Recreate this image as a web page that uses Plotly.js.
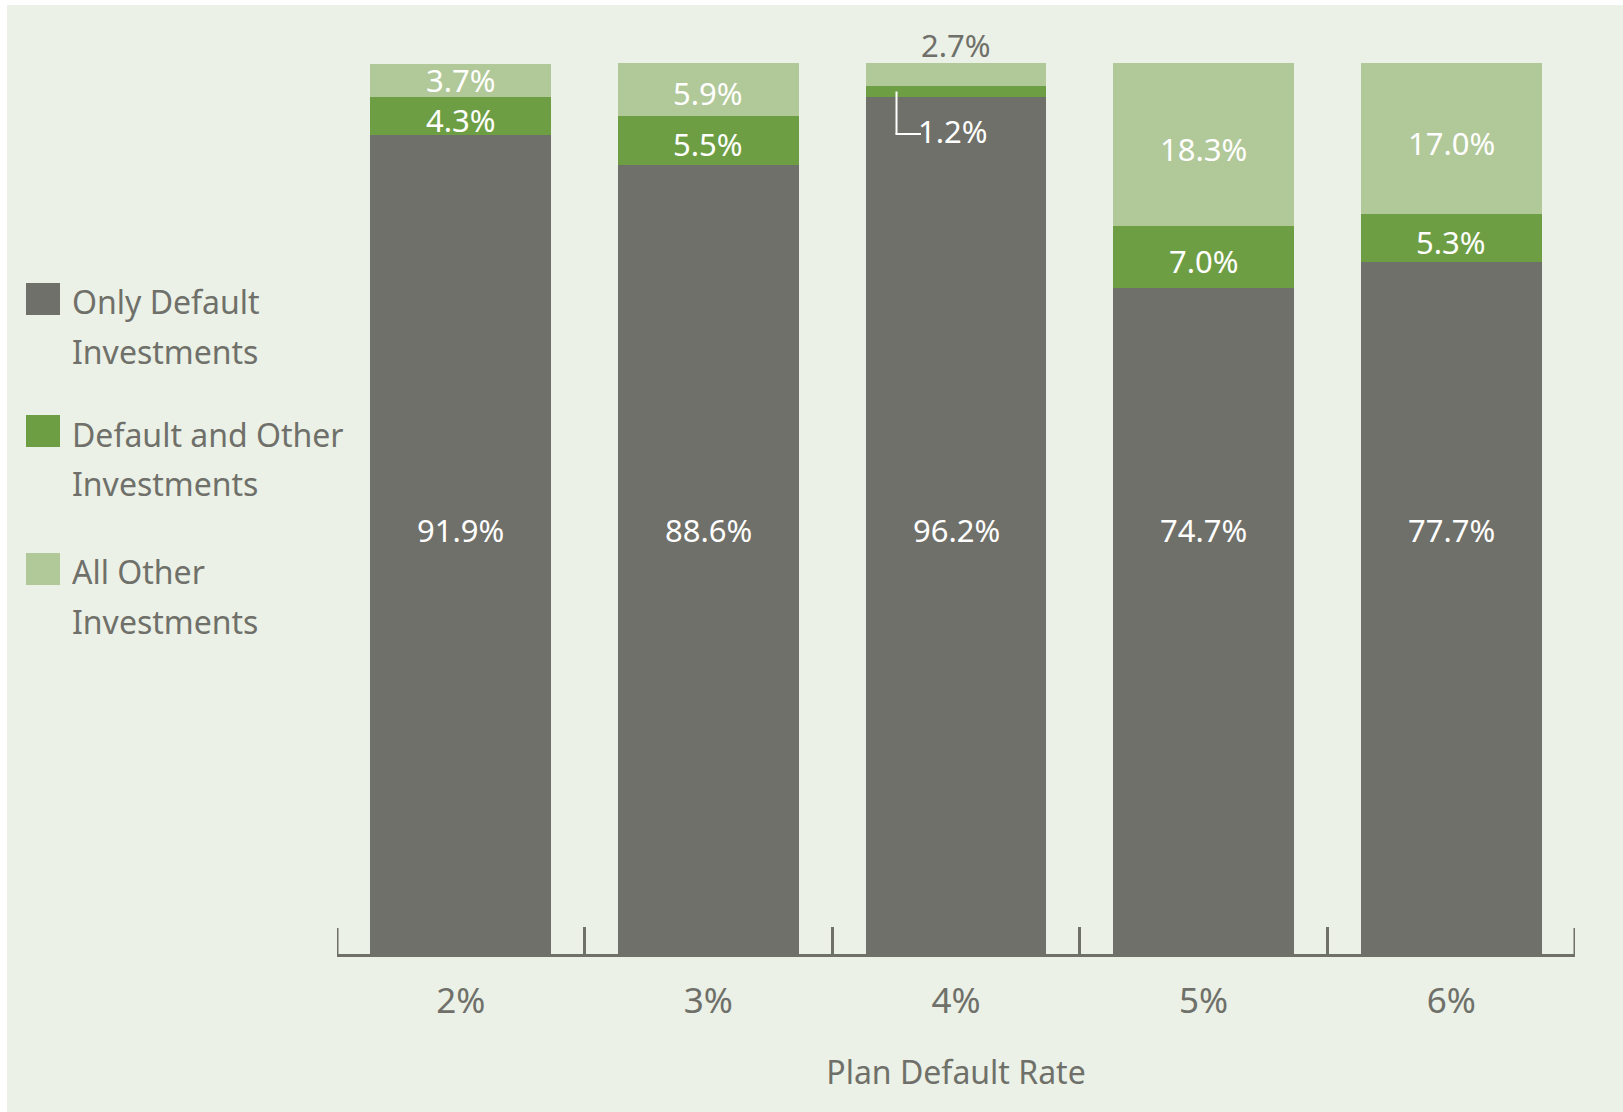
<!DOCTYPE html>
<html>
<head>
<meta charset="utf-8">
<script src="https://cdn.plot.ly/plotly-3.0.1.min.js"></script>
<style>
  html, body { margin: 0; padding: 0; background: #ffffff; }
  #chart { position: absolute; left: 7px; top: 5px; width: 1616px; height: 1107px; }
</style>
</head>
<body>
<div id="chart"></div>
<script>
// ---- data ----
const categories = ["2%", "3%", "4%", "5%", "6%"];
const onlyDefault = [91.9, 88.6, 96.2, 74.7, 77.7];
const defaultAndOther = [4.3, 5.5, 1.2, 7.0, 5.3];
const allOther = [3.7, 5.9, 2.7, 18.3, 17.0];
const seriesNames = ["Only Default<br>Investments", "Default and Other<br>Investments", "All Other<br>Investments"];
const xTitle = "Plan Default Rate";

// ---- style ----
const FONT = '"Noto Sans", "DejaVu Sans Condensed", sans-serif';
const colors = ["#6f7069", "#6e9e44", "#b1c899"];
const textGray = "#6f7069";
const bg = "#ebf1e7";
const labelFont = { family: FONT, size: 31, color: "#ffffff" };
const grayLabelY = 47.6;
const smallSeg = 3;
const segLabelShift = -4;

const seriesValues = [onlyDefault, defaultAndOther, allOther];
const traces = seriesValues.map((vals, k) => ({
  type: "bar",
  x: categories,
  y: vals,
  name: seriesNames[k].replace("<br>", " "),
  marker: { color: colors[k], line: { width: 0 } },
  showlegend: false,
  hoverinfo: "none"
}));

const fmt = v => v.toFixed(1) + "%";
const annotations = [];
const shapes = [];

categories.forEach((c, i) => {
  const g = onlyDefault[i], d = defaultAndOther[i], a = allOther[i];
  // Only default label (fixed height)
  annotations.push({ x: c, y: grayLabelY, xref: "x", yref: "y", text: fmt(g), showarrow: false, font: labelFont, yanchor: "middle" });
  // Default and other
  if (d >= smallSeg) {
    annotations.push({ x: c, y: g + d / 2, xref: "x", yref: "y", text: fmt(d), showarrow: false, font: labelFont, yanchor: "middle", yshift: segLabelShift });
  } else {
    const mid = g + d / 2;
    shapes.push({ type: "line", xref: "x", yref: "y", xsizemode: "pixel", ysizemode: "pixel",
      xanchor: i, yanchor: mid, x0: -59.5, x1: -59.5, y0: 0, y1: -42.5, line: { color: "#ffffff", width: 2 } });
    shapes.push({ type: "line", xref: "x", yref: "y", xsizemode: "pixel", ysizemode: "pixel",
      xanchor: i, yanchor: mid, x0: -60.5, x1: -35, y0: -42.5, y1: -42.5, line: { color: "#ffffff", width: 2 } });
    annotations.push({ x: c, y: mid, xref: "x", yref: "y", text: fmt(d), showarrow: false, font: labelFont, yanchor: "middle", yshift: -39.5, xshift: -3 });
  }
  // All other
  if (a >= smallSeg) {
    annotations.push({ x: c, y: g + d + a / 2, xref: "x", yref: "y", text: fmt(a), showarrow: false, font: labelFont, yanchor: "middle", yshift: i === 0 ? 0 : segLabelShift });
  } else {
    annotations.push({ x: c, y: Math.min(g + d + a, 100), xref: "x", yref: "y", text: fmt(a), showarrow: false,
      font: { family: FONT, size: 31, color: textGray }, yanchor: "middle", yshift: 18 });
  }
});

// ---- end ticks of the category axis (boundaries at both ends) ----
[-0.5, categories.length - 0.5].forEach(b => {
  shapes.push({ type: "line", xref: "x", yref: "paper", ysizemode: "pixel", yanchor: 0,
    x0: b, x1: b, y0: -3, y1: 26, line: { color: textGray, width: 3 } });
});

// ---- manual legend (large squares, two text lines each) ----
const legendSquareTop = [-220, -352, -490];
const legendLineY = [[0.7321, 0.6760], [0.5836, 0.5286], [0.4291, 0.3730]];
seriesNames.forEach((n, k) => {
  shapes.push({ type: "rect", xref: "paper", yref: "paper", xsizemode: "pixel", ysizemode: "pixel",
    xanchor: 0, yanchor: 1, x0: -311, x1: -277, y0: legendSquareTop[k], y1: legendSquareTop[k] - 32,
    fillcolor: colors[k], line: { width: 0 } });
  n.split("<br>").forEach((line, j) => {
    annotations.push({ xref: "paper", yref: "paper", x: 0, y: legendLineY[k][j], xshift: -267, xanchor: "left", yanchor: "middle",
      align: "left", text: line, showarrow: false, font: { family: FONT, size: 32, color: textGray } });
  });
});

const layout = {
  width: 1616,
  height: 1107,
  paper_bgcolor: bg,
  plot_bgcolor: bg,
  margin: { l: 330, r: 48, t: 58, b: 158, pad: 0 },
  barmode: "stack",
  bargap: 0.27,
  font: { family: FONT, color: textGray },
  xaxis: {
    type: "category",
    range: [-0.5, categories.length - 0.5],
    showline: true,
    linecolor: textGray,
    linewidth: 3,
    ticks: "inside",
    tickson: "boundaries",
    ticklen: 27,
    tickwidth: 3,
    tickcolor: textGray,
    showgrid: false,
    zeroline: false,
    tickfont: { family: FONT, size: 35, color: textGray },
    ticklabelstandoff: 14,
    title: { text: xTitle, font: { family: FONT, size: 32, color: textGray }, standoff: 40 },
    automargin: false,
    fixedrange: true
  },
  yaxis: {
    range: [0, 100],
    visible: false,
    showgrid: false,
    zeroline: false,
    fixedrange: true
  },
  annotations: annotations,
  shapes: shapes
};

Plotly.newPlot("chart", traces, layout, { displayModeBar: false, staticPlot: true });
</script>
</body>
</html>
